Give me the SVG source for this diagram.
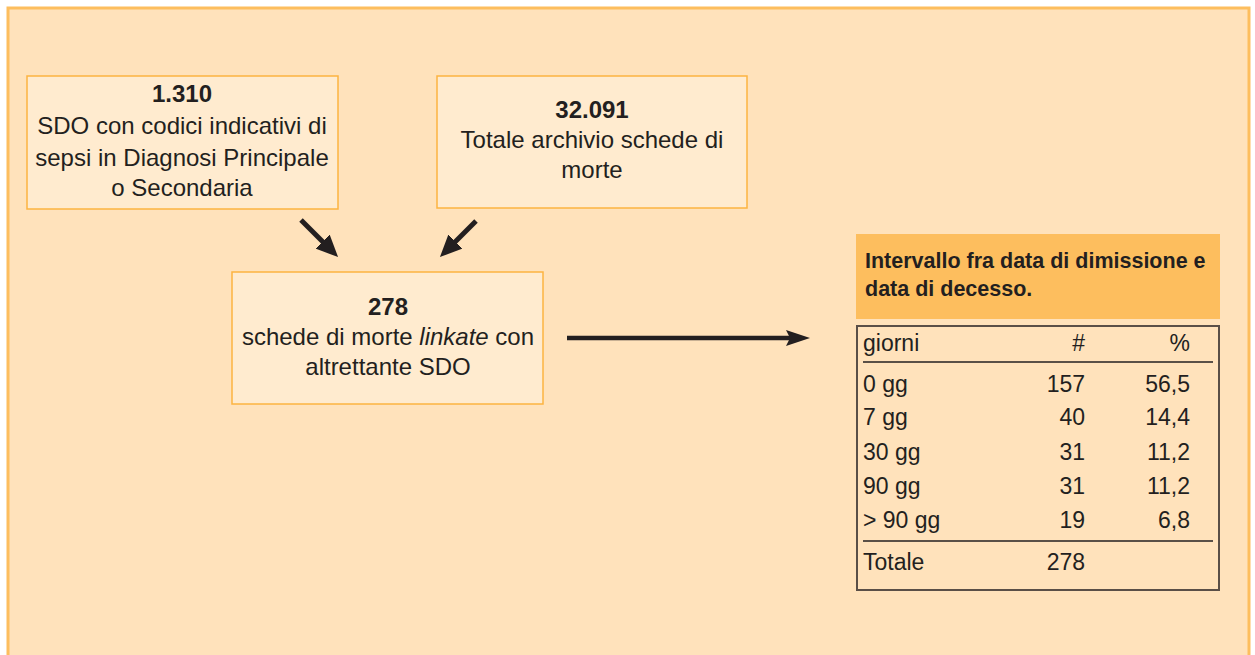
<svg xmlns="http://www.w3.org/2000/svg" width="1255" height="655" viewBox="0 0 1255 655">
  <style>
    .txt { font-family: "Liberation Sans", Arial, sans-serif; fill: #231F20; }
    .body { font-size: 24px; text-anchor: middle; }
    .num { font-size: 24px; font-weight: bold; text-anchor: middle; }
    .hdr { font-size: 21.5px; font-weight: bold; }
    .cell { font-size: 23px; }
    .r { text-anchor: end; }
    .node { fill: #FFEBCF; stroke: #FDB441; stroke-width: 1.5; }
    .conn { stroke: #231F20; fill: none; }
  </style>
  <defs>
    <marker id="ah" viewBox="0 0 22 20" markerWidth="22" markerHeight="20" markerUnits="userSpaceOnUse" refX="12" refY="10" orient="auto">
      <path d="M0,0 L22,10 L0,20 Z" fill="#231F20"/>
    </marker>
    <marker id="ah2" viewBox="0 0 24 16" markerWidth="24" markerHeight="16" markerUnits="userSpaceOnUse" refX="12" refY="8" orient="auto">
      <path d="M0,0 L24,8 L0,16 L4,8 Z" fill="#231F20"/>
    </marker>
  </defs>

  <rect x="0" y="0" width="1255" height="655" fill="#FFFFFF"/>
  <rect id="frame" x="8" y="8" width="1241" height="660" fill="#FFE2BB" stroke="#FDBE5E" stroke-width="3"/>

  <g id="node-sdo">
    <rect class="node" x="27" y="76" width="311" height="133"/>
    <text class="txt num" x="182" y="102">1.310</text>
    <text class="txt body" x="182" y="134">SDO con codici indicativi di</text>
    <text class="txt body" x="182" y="166">sepsi in Diagnosi Principale</text>
    <text class="txt body" x="182" y="196">o Secondaria</text>
  </g>

  <g id="node-archivio">
    <rect class="node" x="437" y="76" width="310" height="132"/>
    <text class="txt num" x="592" y="118">32.091</text>
    <text class="txt body" x="592" y="148">Totale archivio schede di</text>
    <text class="txt body" x="592" y="178">morte</text>
  </g>

  <g id="node-linkate">
    <rect class="node" x="232" y="272" width="311" height="132"/>
    <text class="txt num" x="388" y="315">278</text>
    <text class="txt body" x="388" y="345">schede di morte <tspan font-style="italic">linkate</tspan> con</text>
    <text class="txt body" x="388" y="375">altrettante SDO</text>
  </g>

  <g id="node-tabella">
    <rect x="856" y="234" width="364" height="85" fill="#FDBE5E"/>
    <text class="txt hdr" x="865" y="268">Intervallo fra data di dimissione e</text>
    <text class="txt hdr" x="865" y="296">data di decesso.</text>
    <rect x="857" y="326" width="362" height="264" fill="none" stroke="#5A4F47" stroke-width="2"/>
    <line x1="863" y1="362" x2="1213" y2="362" stroke="#231F20" stroke-width="1.3"/>
    <line x1="863" y1="541" x2="1213" y2="541" stroke="#231F20" stroke-width="1.3"/>
    <text class="txt cell" x="863" y="351">giorni</text>
    <text class="txt cell r" x="1085" y="351">#</text>
    <text class="txt cell r" x="1190" y="351">%</text>
    <text class="txt cell" x="863" y="392">0 gg</text>
    <text class="txt cell r" x="1085" y="392">157</text>
    <text class="txt cell r" x="1190" y="392">56,5</text>
    <text class="txt cell" x="863" y="425">7 gg</text>
    <text class="txt cell r" x="1085" y="425">40</text>
    <text class="txt cell r" x="1190" y="425">14,4</text>
    <text class="txt cell" x="863" y="460">30 gg</text>
    <text class="txt cell r" x="1085" y="460">31</text>
    <text class="txt cell r" x="1190" y="460">11,2</text>
    <text class="txt cell" x="863" y="494">90 gg</text>
    <text class="txt cell r" x="1085" y="494">31</text>
    <text class="txt cell r" x="1190" y="494">11,2</text>
    <text class="txt cell" x="863" y="528">&gt; 90 gg</text>
    <text class="txt cell r" x="1085" y="528">19</text>
    <text class="txt cell r" x="1190" y="528">6,8</text>
    <text class="txt cell" x="863" y="570">Totale</text>
    <text class="txt cell r" x="1085" y="570">278</text>
  </g>

  <g id="connectors">
    <path class="conn" d="M301,220 L331,250" stroke-width="5" marker-end="url(#ah)"/>
    <path class="conn" d="M476,221 L447,250" stroke-width="5" marker-end="url(#ah)"/>
    <path class="conn" d="M567,338 L798,338" stroke-width="4.5" marker-end="url(#ah2)"/>
  </g>
</svg>
